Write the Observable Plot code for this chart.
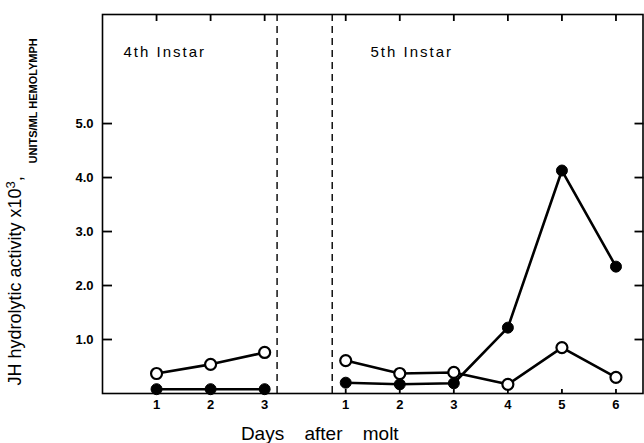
<!DOCTYPE html>
<html><head><meta charset="utf-8">
<script src="https://cdn.jsdelivr.net/npm/d3@7"></script>
<script src="https://cdn.jsdelivr.net/npm/@observablehq/plot@0.6"></script>
<style>body{margin:0;background:#fff;}</style>
</head><body><div id="chart"></div>
<script>
// ---- data ----
const days4 = [1, 2, 3];
const open4 = [0.37, 0.54, 0.76];
const filled4 = [0.08, 0.08, 0.08];
const days5 = [1, 2, 3, 4, 5, 6];
const open5 = [0.61, 0.37, 0.39, 0.17, 0.85, 0.30];
const filled5 = [0.20, 0.17, 0.19, 1.22, 4.13, 2.35];
const yTicks = [1, 2, 3, 4, 5];
const instarNames = ["4th Instar", "5th Instar"];
const xTitle = "Days after molt";
const yTitleMain = "JH hydrolytic activity x10";
const yTitleSup = "3";
const yUnits = "UNITS/ML HEMOLYMPH";

// ---- layout: 5th-instar days placed after a gap on the shared x axis ----
const shift5 = 3.5;
const breaks = [3.23, 4.25];

const rows = [];
days4.forEach((d, i) => rows.push({x: d, v: open4[i], s: "open4", open: true}));
days4.forEach((d, i) => rows.push({x: d, v: filled4[i], s: "filled4", open: false}));
days5.forEach((d, i) => rows.push({x: d + shift5, v: open5[i], s: "open5", open: true}));
days5.forEach((d, i) => rows.push({x: d + shift5, v: filled5[i], s: "filled5", open: false}));

const tickX = days4.concat(days5.map(d => d + shift5));
const dayLabel = d => String(d > shift5 ? d - shift5 : d);

const chart = Plot.plot({
  width: 644,
  height: 443,
  marginLeft: 102,
  marginRight: 1.5,
  marginTop: 14,
  marginBottom: 50,
  style: {fontFamily: "'Liberation Sans', Arial, sans-serif", background: "#fff", color: "#000"},
  x: {domain: [0, 10]},
  y: {domain: [0, 7.02]},
  marks: [
    Plot.frame({stroke: "black", strokeWidth: 1.6}),
    Plot.ruleX(breaks, {stroke: "black", strokeWidth: 1.4, strokeDasharray: "7,5"}),
    Plot.axisY(yTicks, {anchor: "left", tickSize: -10, tickPadding: 19, strokeWidth: 1.8,
      tickFormat: d => d.toFixed(1), fontSize: 13, fontWeight: "bold", label: null}),
    Plot.axisY(yTicks, {anchor: "right", tickSize: -9, strokeWidth: 1.8, tickFormat: () => "", label: null}),
    Plot.axisX(tickX, {anchor: "top", tickSize: -6, strokeWidth: 1.8, tickFormat: () => "", label: null}),
    Plot.axisX(tickX, {anchor: "bottom", tickSize: -4, tickPadding: 10, strokeWidth: 1.8,
      tickFormat: dayLabel, fontSize: 13, fontWeight: "bold", label: null}),
    Plot.line(rows, {x: "x", y: "v", z: "s", stroke: "black", strokeWidth: 2.6}),
    Plot.dot(rows.filter(r => !r.open), {x: "x", y: "v", r: 5.5, fill: "black", stroke: "black", strokeWidth: 1}),
    Plot.dot(rows.filter(r => r.open), {x: "x", y: "v", r: 5.5, fill: "white", stroke: "black", strokeWidth: 2.2}),
    Plot.text([instarNames[0]], {text: d => d, frameAnchor: "top-left", dx: 21, dy: 38,
      textAnchor: "start", lineAnchor: "middle", fontSize: 15}),
    Plot.text([instarNames[1]], {text: d => d, frameAnchor: "top-left", dx: 268, dy: 38,
      textAnchor: "start", lineAnchor: "middle", fontSize: 15}),
    Plot.text([xTitle], {text: d => d, frameAnchor: "bottom", dx: -53, dy: 40,
      lineAnchor: "middle", fontSize: 19}),
    Plot.text([yTitleMain], {text: d => d, frameAnchor: "bottom-left", dx: -87, dy: -8, rotate: -90,
      textAnchor: "start", lineAnchor: "middle", fontSize: 18}),
    Plot.text([yUnits], {text: d => d, frameAnchor: "top-left", dx: -69, dy: 149, rotate: -90,
      textAnchor: "start", lineAnchor: "middle", fontSize: 11, fontWeight: "bold"})
  ]
});

d3.select(chart).selectAll("text").each(function() {
  const t = this.textContent;
  const sel = d3.select(this);
  if (t.includes("Instar")) sel.attr("letter-spacing", 2);
  if (t === xTitle) sel.attr("word-spacing", 15);
  if (t === yTitleMain) {
    sel.append("tspan").attr("dy", "-0.45em").attr("font-size", 13).text(yTitleSup);
    sel.append("tspan").attr("dy", "0.35em").text(",");
  }
});

document.getElementById("chart").appendChild(chart);
</script>
</body></html>
